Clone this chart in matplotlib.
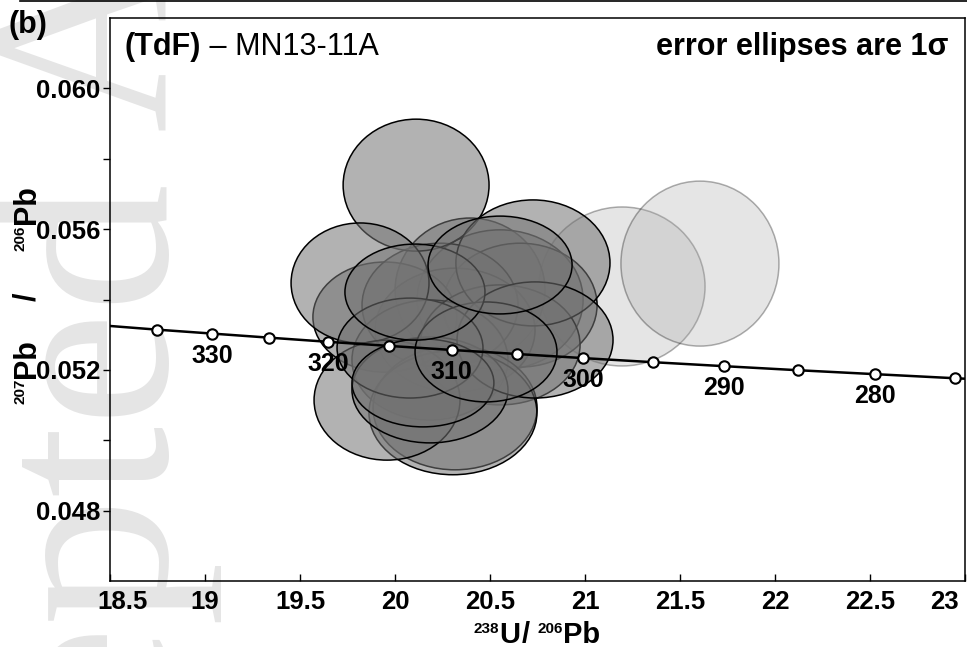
import matplotlib.pyplot as plt
from matplotlib.patches import Ellipse
from matplotlib.lines import Line2D
from matplotlib.ticker import FixedLocator, FuncFormatter

plt.rcParams['font.family'] = ['Liberation Sans', 'DejaVu Sans']

# Tera-Wasserburg concordia, ages in Ma
conc_age = [340, 335, 330, 325, 320, 315, 310, 305, 300, 295, 290, 285, 280, 275, 270]
conc_x = [18.464, 18.746, 19.039, 19.339, 19.649, 19.969, 20.299, 20.640,
          20.992, 21.356, 21.733, 22.122, 22.527, 22.945, 23.379]
conc_y = [0.053263, 0.053144, 0.053031, 0.052915, 0.052797, 0.052681, 0.052566,
          0.052452, 0.052334, 0.052219, 0.052105, 0.051990, 0.051878, 0.051763, 0.051652]
label_ages = [330, 320, 310, 300, 290, 280]

# analyses left out (light grey)
rej_x = [21.195, 21.605]
rej_y = [0.05437, 0.05502]
rej_w = [0.874, 0.832]
rej_h = [0.00452, 0.00469]

# analyses used (dark grey), drawing order
acc_x = [20.395, 20.553, 20.658, 20.316, 19.947, 20.237, 20.184, 20.553, 20.316, 20.305,
         20.111, 19.816, 19.958, 20.184, 20.726, 20.737, 20.079, 20.147, 20.479, 20.105, 20.553]
acc_y = [0.05427, 0.05399, 0.05384, 0.05313, 0.05350, 0.05384, 0.05228, 0.05271, 0.05092, 0.05078,
         0.05725, 0.05447, 0.05114, 0.05143, 0.05504, 0.05285, 0.05262, 0.05163, 0.05251, 0.05421, 0.05498]
acc_w = [0.789, 0.874, 0.811, 0.842, 0.758, 0.821, 0.821, 0.842, 0.863, 0.884,
         0.768, 0.726, 0.768, 0.821, 0.811, 0.821, 0.768, 0.747, 0.747, 0.737, 0.758]
acc_h = [0.00409, 0.00398, 0.00352, 0.00352, 0.00313, 0.00352, 0.00341, 0.00341, 0.00352, 0.00352,
         0.00375, 0.00341, 0.00341, 0.00301, 0.00358, 0.00330, 0.00284, 0.00250, 0.00284, 0.00273, 0.00278]

xticks = [18.5, 19, 19.5, 20, 20.5, 21, 21.5, 22, 22.5, 23]
yticks = [0.048, 0.052, 0.056, 0.060]
yminor = [0.050, 0.054, 0.058]

# axis titles as (text, size, superscript?, gap after in px)
xlabel_parts = [('238', 11, True, 0), ('U', 21, False, 1), ('/', 21, False, 8),
                ('206', 11, True, 0), ('Pb', 21, False, 0)]
ylabel_parts = [('207', 11, True, 1), ('Pb', 22, False, 38), ('/', 22, False, 42),
                ('206', 11, True, 1), ('Pb', 22, False, 0)]

W, H = 967, 647
fig = plt.figure(figsize=(W/100, H/100), dpi=100)
fig.patch.set_facecolor('white')
ax = fig.add_axes([110/W, 66/H, 855/W, 563/H])
ax.set_facecolor('none')

# journal watermark
fig.text(165/W, (H-180)/H, 'Accepted', rotation=90, rotation_mode='anchor',
         ha='right', va='baseline', fontsize=185, family='Liberation Serif',
         color='#e5e5e5', zorder=-1)
fig.text(165/W, (H-130)/H, 'Article', rotation=90, rotation_mode='anchor',
         ha='left', va='baseline', fontsize=185, family='Liberation Serif',
         color='#e5e5e5', zorder=-1)

for x, y, w, h in zip(rej_x, rej_y, rej_w, rej_h):
    ax.add_patch(Ellipse((x, y), w, h, facecolor='#ababab', edgecolor='k',
                         alpha=0.31, lw=1.1, zorder=2))
for x, y, w, h in zip(acc_x, acc_y, acc_w, acc_h):
    ax.add_patch(Ellipse((x, y), w, h, facecolor=(0.45, 0.45, 0.45, 0.55),
                         edgecolor='k', lw=1.1, zorder=3))

ax.plot(conc_x, conc_y, '-', color='k', lw=1.8, zorder=5)
ax.plot(conc_x[1:-1], conc_y[1:-1], 'o', color='k', mfc='white', mec='k',
        ms=7.5, mew=1.5, zorder=6)
for age, x, y in zip(conc_age, conc_x, conc_y):
    if age in label_ages:
        ax.annotate(str(age), (x, y), xytext=(0, -16), textcoords='offset points',
                    ha='center', va='center', fontsize=18, fontweight='bold', zorder=7)

ax.set_xlim(18.5, 23)
ax.set_ylim(0.046, 0.062)
ax.xaxis.set_major_locator(FixedLocator(xticks))
# end labels are nudged inside the frame, drawn separately below
ax.xaxis.set_major_formatter(FuncFormatter(
    lambda v, p: '' if v in (xticks[0], xticks[-1]) else '%g' % v))
ax.yaxis.set_major_locator(FixedLocator(yticks))
ax.yaxis.set_minor_locator(FixedLocator(yminor))
ax.yaxis.set_major_formatter(FuncFormatter(lambda v, p: '%.3f' % v))
ax.tick_params(axis='x', direction='in', length=5, width=1, pad=6.5, labelsize=18.5)
ax.tick_params(axis='y', which='both', direction='out', length=5, width=1, pad=2, labelsize=18.5)
for lab in ax.get_xticklabels() + ax.get_yticklabels():
    lab.set_fontweight('bold')
for sp in ax.spines.values():
    sp.set_linewidth(1.1)

ax.annotate('%g' % xticks[0], (xticks[0], 0), xycoords=('data', 'axes fraction'),
            xytext=(9, -6.5), textcoords='offset points', ha='center', va='top',
            fontsize=18.5, fontweight='bold')
ax.annotate('%g' % xticks[-1], (xticks[-1], 0), xycoords=('data', 'axes fraction'),
            xytext=(-15, -6.5), textcoords='offset points', ha='center', va='top',
            fontsize=18.5, fontweight='bold')


def label_from_parts(parts, centre, base, vertical, raise_px):
    # lay the pieces one after the other, superscripts top-aligned with caps
    renderer = fig.canvas.get_renderer()
    texts, lens = [], []
    for s, size, sup, gap in parts:
        t = fig.text(0, 0, s, fontsize=size, fontweight='bold', ha='left',
                     va='baseline', rotation=90 if vertical else 0,
                     rotation_mode='anchor')
        bb = t.get_window_extent(renderer)
        texts.append(t)
        lens.append(bb.height if vertical else bb.width)
    total = sum(lens) + sum(p[3] for p in parts)
    pos = centre - total / 2
    for t, n, (s, size, sup, gap) in zip(texts, lens, parts):
        shift = raise_px if sup else 0
        if vertical:
            t.set_position(((base - shift) / W, pos / H))
        else:
            t.set_position((pos / W, (base + shift) / H))
        pos += n + gap


label_from_parts(xlabel_parts, 537, 4, False, 10)
label_from_parts(ylabel_parts, 352, 35, True, 10.5)

t1 = ax.text(15/855, 0.934, '(TdF)', transform=ax.transAxes, fontsize=22,
             fontweight='bold', va='baseline', ha='left')
ax.annotate(' \u2013 MN13-11A', xy=(1, 0), xycoords=t1, va='bottom', ha='left', fontsize=22)
ax.text(838/855, 0.934, 'error ellipses are 1\u03c3', transform=ax.transAxes,
        fontsize=22, fontweight='bold', va='baseline', ha='right')

fig.text(8/W, (H-33)/H, '(b)', fontsize=22, fontweight='bold', ha='left', va='baseline')
fig.add_artist(Line2D([20/W, 1], [1 - 1/H, 1 - 1/H], color='k', lw=1.2,
                      transform=fig.transFigure))

fig.savefig('out.png', dpi=100)
